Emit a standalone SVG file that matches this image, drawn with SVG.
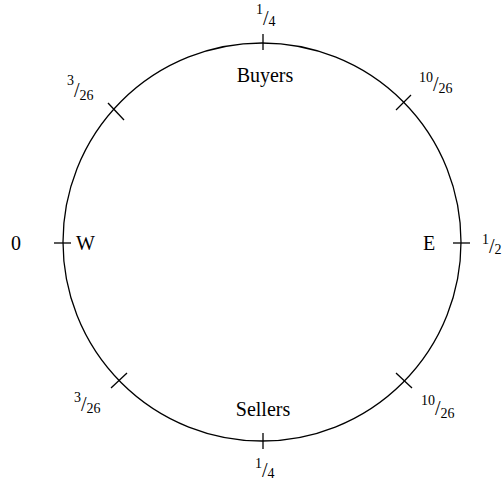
<svg xmlns="http://www.w3.org/2000/svg" width="503" height="487" viewBox="0 0 503 487">
<style>
.ln{fill:none;stroke:#000;stroke-width:1.3}
text{font-family:"Liberation Serif","Times New Roman",serif;fill:#000}
.lbl{font-size:20px}
.sm{font-size:14px}
.sl{font-size:20px}
</style>
<rect width="503" height="487" fill="#fff"/>
<g id="connectors">
<circle class="ln" cx="262" cy="242" r="199"/>
<line class="ln" x1="263" y1="34" x2="263" y2="50"/>
<line class="ln" x1="263" y1="433" x2="263" y2="449"/>
<line class="ln" x1="54" y1="243" x2="71" y2="243"/>
<line class="ln" x1="453" y1="243" x2="470" y2="243"/>
<line class="ln" x1="108" y1="103" x2="124" y2="120"/>
<line class="ln" x1="411" y1="95" x2="396" y2="110"/>
<line class="ln" x1="111" y1="388" x2="127" y2="373"/>
<line class="ln" x1="396" y1="373" x2="412" y2="388"/>
</g>
<g id="buyers"><text class="lbl" x="265" y="82" text-anchor="middle">Buyers</text></g>
<g id="sellers"><text class="lbl" x="263" y="416" text-anchor="middle">Sellers</text></g>
<g id="west"><text class="lbl" x="76" y="250">W</text></g>
<g id="east"><text class="lbl" x="423" y="250">E</text></g>
<g id="zero"><text class="lbl" x="11" y="250">0</text></g>
<g id="top-quarter"><text x="256" y="14" class="sm">1<tspan class="sl" dy="11">/</tspan><tspan class="sm" dy="1">4</tspan></text></g>
<g id="bottom-quarter"><text x="255" y="468" class="sm">1<tspan class="sl" dy="9">/</tspan><tspan class="sm" dy="1">4</tspan></text></g>
<g id="half"><text x="482" y="244" class="sm">1<tspan class="sl" dy="9">/</tspan><tspan class="sm" dy="1">2</tspan></text></g>
<g id="tl"><text x="67" y="85" class="sm">3<tspan class="sl" dy="12">/</tspan><tspan class="sm" dy="3">26</tspan></text></g>
<g id="tr"><text x="419" y="82" class="sm">10<tspan class="sl" dy="9">/</tspan><tspan class="sm" dy="2">26</tspan></text></g>
<g id="bl"><text x="74" y="402" class="sm">3<tspan class="sl" dy="9">/</tspan><tspan class="sm" dy="2">26</tspan></text></g>
<g id="br"><text x="421" y="405" class="sm">10<tspan class="sl" dy="10">/</tspan><tspan class="sm" dy="3">26</tspan></text></g>
</svg>
